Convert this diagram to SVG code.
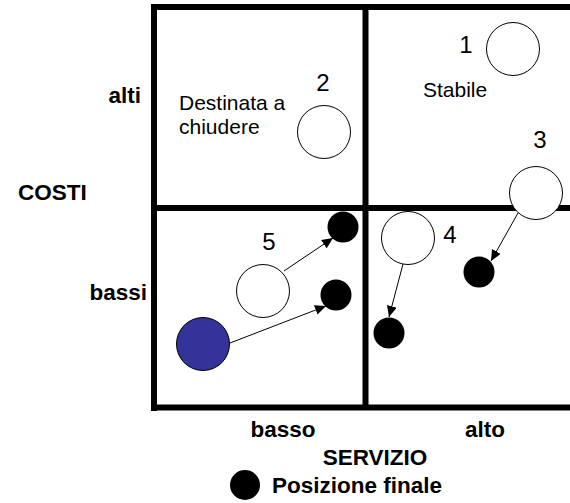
<svg xmlns="http://www.w3.org/2000/svg" width="570" height="503" viewBox="0 0 570 503">
  <style>
    .grid { stroke: #000; stroke-width: 6; fill: none; }
    .pos { fill: #fff; stroke: #000; stroke-width: 1; }
    .final { fill: #000; }
    .start { fill: #333399; stroke: #000; stroke-width: 1; }
    .num { font-family: "Liberation Sans", Arial, sans-serif; font-size: 24px; text-anchor: middle; fill: #000; }
    .note { font-family: "Liberation Sans", Arial, sans-serif; font-size: 21px; fill: #000; }
    .axis { font-family: "Liberation Sans", Arial, sans-serif; font-size: 22.5px; font-weight: bold; fill: #000; }
    .move { stroke: #000; stroke-width: 1; fill: none; marker-end: url(#arrow); }
  </style>
  <defs>
    <marker id="arrow" markerUnits="userSpaceOnUse" markerWidth="12" markerHeight="10" refX="11" refY="5" orient="auto">
      <path d="M0,0 L11,5 L0,10 Z" fill="#000"/>
    </marker>
  </defs>
  <rect width="570" height="503" fill="#fff"/>

  <!-- matrix grid -->
  <g id="grid">
    <line class="grid" x1="151" y1="7" x2="570" y2="7"/>
    <line class="grid" x1="154" y1="4" x2="154" y2="411"/>
    <line class="grid" x1="154" y1="208" x2="570" y2="208"/>
    <line class="grid" x1="365.5" y1="7" x2="365.5" y2="408"/>
    <line class="grid" x1="151" y1="407.5" x2="570" y2="407.5"/>
  </g>

  <!-- axis labels -->
  <g id="axis-labels">
    <text class="axis" x="141" y="103" text-anchor="end">alti</text>
    <text class="axis" x="18" y="200">COSTI</text>
    <text class="axis" x="147" y="300" text-anchor="end">bassi</text>
    <text class="axis" x="283" y="437" text-anchor="middle">basso</text>
    <text class="axis" x="485" y="437" text-anchor="middle">alto</text>
    <text class="axis" x="375" y="465" text-anchor="middle">SERVIZIO</text>
  </g>

  <!-- quadrant notes -->
  <g id="quadrant-notes">
    <text class="note" x="179" y="110">Destinata a</text>
    <text class="note" x="179" y="134">chiudere</text>
    <text class="note" x="423" y="97">Stabile</text>
  </g>

  <!-- movements -->
  <g id="connectors">
    <line class="move" x1="284" y1="271" x2="333" y2="238"/>
    <line class="move" x1="230" y1="343" x2="326" y2="306"/>
    <line class="move" x1="403" y1="264" x2="389" y2="317"/>
    <line class="move" x1="518" y1="213" x2="491" y2="261"/>
  </g>

  <!-- companies -->
  <g id="node-1">
    <circle class="pos" cx="513" cy="49" r="26.5"/>
    <text class="num" x="466" y="53">1</text>
  </g>
  <g id="node-2">
    <circle class="pos" cx="324" cy="132" r="26.5"/>
    <text class="num" x="323" y="91">2</text>
  </g>
  <g id="node-3">
    <circle class="pos" cx="536" cy="193" r="26.5"/>
    <text class="num" x="540" y="148">3</text>
  </g>
  <g id="node-4">
    <circle class="pos" cx="408" cy="238" r="26.5"/>
    <text class="num" x="450" y="243">4</text>
  </g>
  <g id="node-5">
    <circle class="pos" cx="263" cy="291" r="26.5"/>
    <text class="num" x="269" y="250">5</text>
  </g>
  <g id="node-start">
    <circle class="start" cx="203" cy="344" r="26.5"/>
  </g>
  <g id="final-5">
    <circle class="final" cx="343" cy="227" r="15.5"/>
  </g>
  <g id="final-start">
    <circle class="final" cx="336" cy="295" r="15.5"/>
  </g>
  <g id="final-3">
    <circle class="final" cx="479" cy="272" r="15.5"/>
  </g>
  <g id="final-4">
    <circle class="final" cx="389" cy="333" r="15.5"/>
  </g>

  <!-- legend -->
  <g id="legend">
    <circle class="final" cx="245" cy="485" r="15"/>
    <text class="axis" x="272" y="493">Posizione finale</text>
  </g>
</svg>
